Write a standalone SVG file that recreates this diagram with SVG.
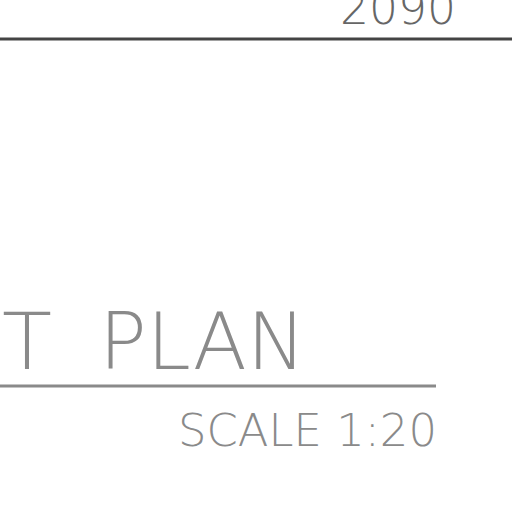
<svg xmlns="http://www.w3.org/2000/svg" width="512" height="512" viewBox="0 0 512 512">
<style>
.t{font-family:"DejaVu Sans","Liberation Sans",sans-serif;font-weight:200;}
</style>
<rect width="512" height="512" fill="#ffffff"/>
<g id="dimension">
<text class="t" x="340" y="24" font-size="46" fill="#666666" textLength="116" lengthAdjust="spacingAndGlyphs">2090</text>
<line x1="0" y1="39" x2="512" y2="39" stroke="#444444" stroke-width="3"/>
</g>
<g id="title">
<text class="t" y="369" font-size="78" fill="#8a8a8a"><tspan x="2" textLength="50" lengthAdjust="spacingAndGlyphs">T</tspan> <tspan x="99" textLength="207" lengthAdjust="spacingAndGlyphs">PLAN</tspan></text>
<line x1="0" y1="386" x2="436" y2="386" stroke="#8a8a8a" stroke-width="3"/>
<text class="t" x="178" y="446" font-size="45" fill="#8a8a8a" textLength="259" lengthAdjust="spacingAndGlyphs">SCALE 1:20</text>
</g>
</svg>
